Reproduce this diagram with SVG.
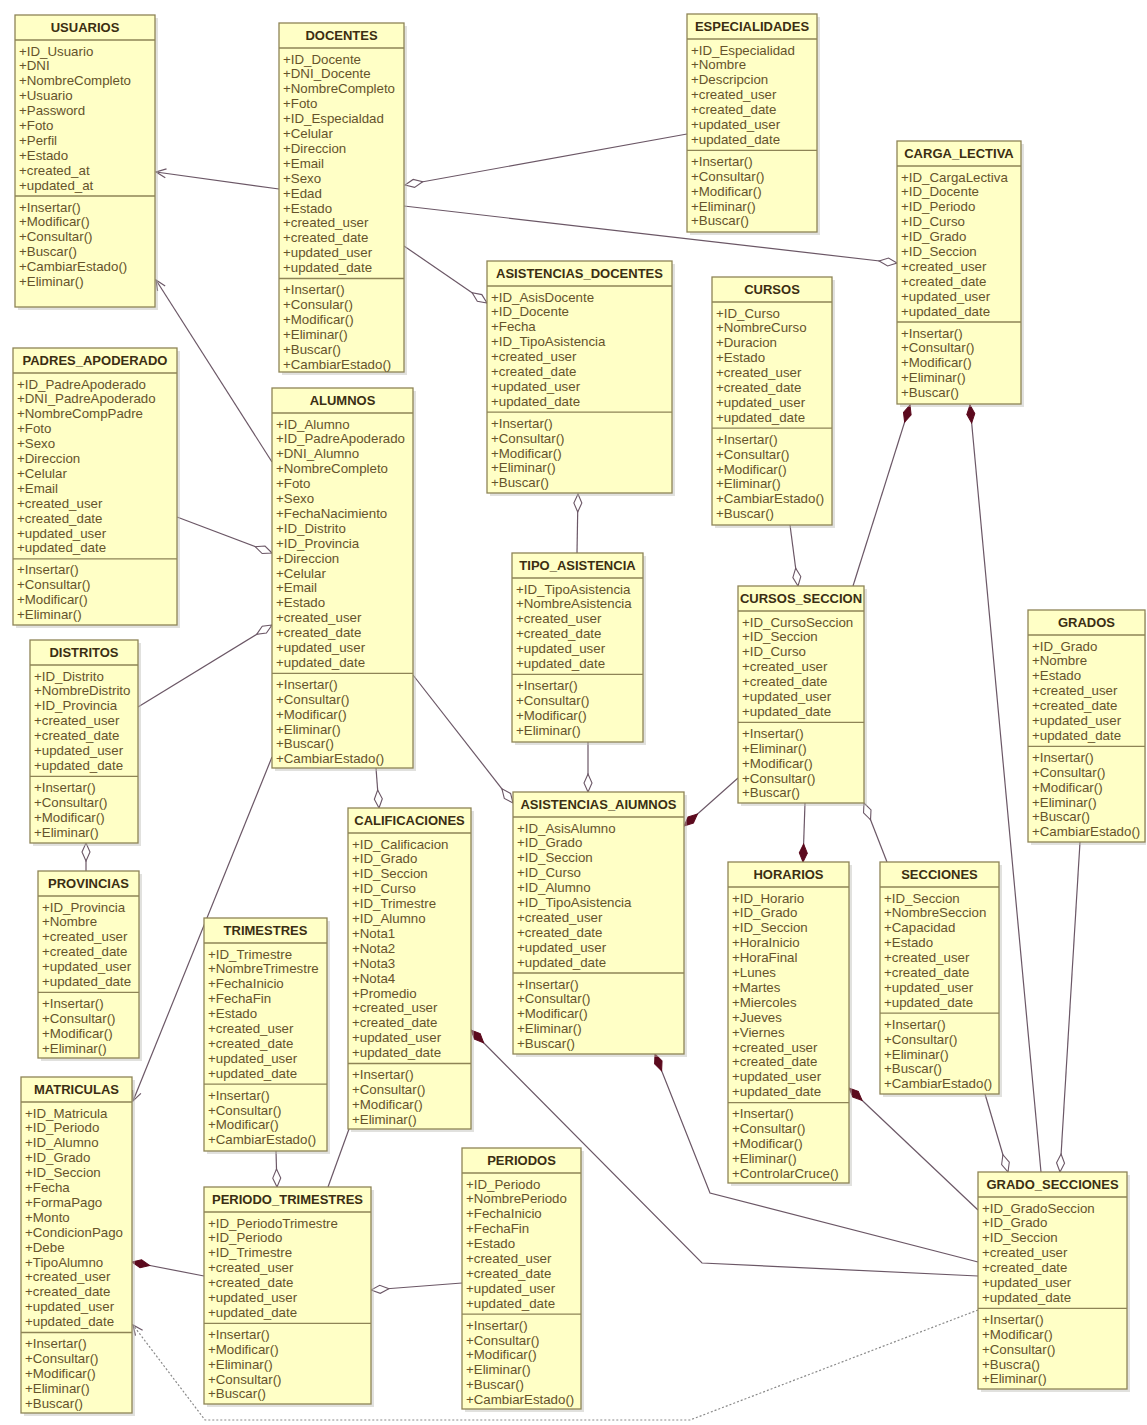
<svg xmlns="http://www.w3.org/2000/svg" width="1147" height="1425" viewBox="0 0 1147 1425">
<style>
.bg{fill:#ffffff}
.box{fill:#FFFFC6;stroke:#8E8456;stroke-width:1.3}
.sep{stroke:#8E8456;stroke-width:1.3}
.sh{fill:#bdbdb5;opacity:.45}
.t{font-family:"Liberation Sans",Arial,sans-serif;font-size:13px;font-weight:bold;fill:#3b2e12;text-anchor:middle}
.a{font-family:"Liberation Sans",Arial,sans-serif;font-size:13.3px;fill:#65532b}
.c{fill:none;stroke:#6b5766;stroke-width:1.2}
.d{stroke-dasharray:2 2;stroke:#8a8a8a}
</style>
<defs>
<marker id="agg" viewBox="-19 -5 20 10" refX="0" refY="0" markerWidth="20" markerHeight="10" markerUnits="userSpaceOnUse" orient="auto">
<path d="M0,0 L-9,-4 L-18,0 L-9,4 Z" fill="#ffffff" stroke="#6b5766" stroke-width="1.1"/>
</marker>
<marker id="comp" viewBox="-19 -5 20 10" refX="0" refY="0" markerWidth="20" markerHeight="10" markerUnits="userSpaceOnUse" orient="auto">
<path d="M0,0 L-9,-4 L-18,0 L-9,4 Z" fill="#5c0a1e" stroke="#5c0a1e" stroke-width="1"/>
</marker>
<marker id="arr" viewBox="-12 -6 13 12" refX="0" refY="0" markerWidth="13" markerHeight="12" markerUnits="userSpaceOnUse" orient="auto">
<path d="M-10,-4.5 L0,0 L-10,4.5" fill="none" stroke="#6b5766" stroke-width="1.2"/>
</marker>
</defs>
<rect class="bg" x="0" y="0" width="1147" height="1425"/>

<g id="connectors">
<path class="c" d="M279,189 L156,172" marker-end="url(#arr)"/>
<path class="c" d="M272,462 L156,280" marker-end="url(#arr)"/>
<path class="c" d="M687,134 L405,185" marker-end="url(#agg)"/>
<path class="c" d="M404,206 L897,263" marker-end="url(#agg)"/>
<path class="c" d="M404,246 L487,303" marker-end="url(#agg)"/>
<path class="c" d="M577,553 L578,494" marker-end="url(#agg)"/>
<path class="c" d="M790,525 L798,586" marker-end="url(#agg)"/>
<path class="c" d="M853,586 L910,405" marker-end="url(#comp)"/>
<path class="c" d="M1041,1172 L970,405" marker-end="url(#comp)"/>
<path class="c" d="M1080,842 L1060,1172" marker-end="url(#agg)"/>
<path class="c" d="M985,1094 L1008,1172" marker-end="url(#agg)"/>
<path class="c" d="M887,862 L864,803" marker-end="url(#agg)"/>
<path class="c" d="M805,803 L803,862" marker-end="url(#comp)"/>
<path class="c" d="M738,778 L684,826" marker-end="url(#comp)"/>
<path class="c" d="M588,742 L588,792" marker-end="url(#agg)"/>
<path class="c" d="M413,675 L513,803" marker-end="url(#agg)"/>
<path class="c" d="M376,768 L379,808" marker-end="url(#agg)"/>
<path class="c" d="M177,517 L272,553" marker-end="url(#agg)"/>
<path class="c" d="M138,707 L272,625" marker-end="url(#agg)"/>
<path class="c" d="M86,871 L86,843" marker-end="url(#agg)"/>
<path class="c" d="M272,757 L133,1101" marker-end="url(#arr)"/>
<path class="c" d="M276,1151 L277,1187" marker-end="url(#agg)"/>
<path class="c" d="M349,1129 L328,1187"/>
<path class="c" d="M204,1276 L132,1262" marker-end="url(#comp)"/>
<path class="c" d="M462,1283 L371,1290" marker-end="url(#agg)"/>
<path class="c" d="M978,1276 L702,1263 L471,1030" marker-end="url(#comp)"/>
<path class="c" d="M978,1262 L710,1193 L655,1054" marker-end="url(#comp)"/>
<path class="c" d="M978,1210 L849,1088" marker-end="url(#comp)"/>
<path class="c d" d="M978,1310 L690,1420 L205,1420 L133,1325" marker-end="url(#arr)"/>
</g>

<g id="usuarios">
<rect class="sh" x="18" y="18" width="140" height="292"/>
<rect class="box" x="15" y="15" width="140" height="292"/>
<line class="sep" x1="15" y1="40" x2="155" y2="40"/>
<line class="sep" x1="15" y1="196" x2="155" y2="196"/>
<text class="t" x="85" y="32">USUARIOS</text>
<text class="a" x="19" y="55.5"><tspan x="19">+ID_Usuario</tspan><tspan x="19" dy="14.9">+DNI</tspan><tspan x="19" dy="14.9">+NombreCompleto</tspan><tspan x="19" dy="14.9">+Usuario</tspan><tspan x="19" dy="14.9">+Password</tspan><tspan x="19" dy="14.9">+Foto</tspan><tspan x="19" dy="14.9">+Perfil</tspan><tspan x="19" dy="14.9">+Estado</tspan><tspan x="19" dy="14.9">+created_at</tspan><tspan x="19" dy="14.9">+updated_at</tspan></text>
<text class="a" x="19" y="211.5"><tspan x="19">+Insertar()</tspan><tspan x="19" dy="14.9">+Modificar()</tspan><tspan x="19" dy="14.9">+Consultar()</tspan><tspan x="19" dy="14.9">+Buscar()</tspan><tspan x="19" dy="14.9">+CambiarEstado()</tspan><tspan x="19" dy="14.9">+Eliminar()</tspan></text>
</g>

<g id="docentes">
<rect class="sh" x="282" y="26" width="125" height="349"/>
<rect class="box" x="279" y="23" width="125" height="349"/>
<line class="sep" x1="279" y1="48" x2="404" y2="48"/>
<line class="sep" x1="279" y1="278.5" x2="404" y2="278.5"/>
<text class="t" x="341.5" y="40">DOCENTES</text>
<text class="a" x="283" y="63.5"><tspan x="283">+ID_Docente</tspan><tspan x="283" dy="14.9">+DNI_Docente</tspan><tspan x="283" dy="14.9">+NombreCompleto</tspan><tspan x="283" dy="14.9">+Foto</tspan><tspan x="283" dy="14.9">+ID_Especialdad</tspan><tspan x="283" dy="14.9">+Celular</tspan><tspan x="283" dy="14.9">+Direccion</tspan><tspan x="283" dy="14.9">+Email</tspan><tspan x="283" dy="14.9">+Sexo</tspan><tspan x="283" dy="14.9">+Edad</tspan><tspan x="283" dy="14.9">+Estado</tspan><tspan x="283" dy="14.9">+created_user</tspan><tspan x="283" dy="14.9">+created_date</tspan><tspan x="283" dy="14.9">+updated_user</tspan><tspan x="283" dy="14.9">+updated_date</tspan></text>
<text class="a" x="283" y="294"><tspan x="283">+Insertar()</tspan><tspan x="283" dy="14.9">+Consular()</tspan><tspan x="283" dy="14.9">+Modificar()</tspan><tspan x="283" dy="14.9">+Eliminar()</tspan><tspan x="283" dy="14.9">+Buscar()</tspan><tspan x="283" dy="14.9">+CambiarEstado()</tspan></text>
</g>

<g id="especialidades">
<rect class="sh" x="690" y="17" width="130" height="218"/>
<rect class="box" x="687" y="14" width="130" height="218"/>
<line class="sep" x1="687" y1="39" x2="817" y2="39"/>
<line class="sep" x1="687" y1="150.3" x2="817" y2="150.3"/>
<text class="t" x="752" y="31">ESPECIALIDADES</text>
<text class="a" x="691" y="54.5"><tspan x="691">+ID_Especialidad</tspan><tspan x="691" dy="14.9">+Nombre</tspan><tspan x="691" dy="14.9">+Descripcion</tspan><tspan x="691" dy="14.9">+created_user</tspan><tspan x="691" dy="14.9">+created_date</tspan><tspan x="691" dy="14.9">+updated_user</tspan><tspan x="691" dy="14.9">+updated_date</tspan></text>
<text class="a" x="691" y="165.8"><tspan x="691">+Insertar()</tspan><tspan x="691" dy="14.9">+Consultar()</tspan><tspan x="691" dy="14.9">+Modificar()</tspan><tspan x="691" dy="14.9">+Eliminar()</tspan><tspan x="691" dy="14.9">+Buscar()</tspan></text>
</g>

<g id="carga_lectiva">
<rect class="sh" x="900" y="144" width="124" height="263"/>
<rect class="box" x="897" y="141" width="124" height="263"/>
<line class="sep" x1="897" y1="166" x2="1021" y2="166"/>
<line class="sep" x1="897" y1="322" x2="1021" y2="322"/>
<text class="t" x="959" y="158">CARGA_LECTIVA</text>
<text class="a" x="901" y="181.5"><tspan x="901">+ID_CargaLectiva</tspan><tspan x="901" dy="14.9">+ID_Docente</tspan><tspan x="901" dy="14.9">+ID_Periodo</tspan><tspan x="901" dy="14.9">+ID_Curso</tspan><tspan x="901" dy="14.9">+ID_Grado</tspan><tspan x="901" dy="14.9">+ID_Seccion</tspan><tspan x="901" dy="14.9">+created_user</tspan><tspan x="901" dy="14.9">+created_date</tspan><tspan x="901" dy="14.9">+updated_user</tspan><tspan x="901" dy="14.9">+updated_date</tspan></text>
<text class="a" x="901" y="337.5"><tspan x="901">+Insertar()</tspan><tspan x="901" dy="14.9">+Consultar()</tspan><tspan x="901" dy="14.9">+Modificar()</tspan><tspan x="901" dy="14.9">+Eliminar()</tspan><tspan x="901" dy="14.9">+Buscar()</tspan></text>
</g>

<g id="asistencias_docentes">
<rect class="sh" x="490" y="264" width="185" height="232"/>
<rect class="box" x="487" y="261" width="185" height="232"/>
<line class="sep" x1="487" y1="286" x2="672" y2="286"/>
<line class="sep" x1="487" y1="412.2" x2="672" y2="412.2"/>
<text class="t" x="579.5" y="278">ASISTENCIAS_DOCENTES</text>
<text class="a" x="491" y="301.5"><tspan x="491">+ID_AsisDocente</tspan><tspan x="491" dy="14.9">+ID_Docente</tspan><tspan x="491" dy="14.9">+Fecha</tspan><tspan x="491" dy="14.9">+ID_TipoAsistencia</tspan><tspan x="491" dy="14.9">+created_user</tspan><tspan x="491" dy="14.9">+created_date</tspan><tspan x="491" dy="14.9">+updated_user</tspan><tspan x="491" dy="14.9">+updated_date</tspan></text>
<text class="a" x="491" y="427.7"><tspan x="491">+Insertar()</tspan><tspan x="491" dy="14.9">+Consultar()</tspan><tspan x="491" dy="14.9">+Modificar()</tspan><tspan x="491" dy="14.9">+Eliminar()</tspan><tspan x="491" dy="14.9">+Buscar()</tspan></text>
</g>

<g id="cursos">
<rect class="sh" x="715" y="280" width="120" height="248"/>
<rect class="box" x="712" y="277" width="120" height="248"/>
<line class="sep" x1="712" y1="302" x2="832" y2="302"/>
<line class="sep" x1="712" y1="428.2" x2="832" y2="428.2"/>
<text class="t" x="772" y="294">CURSOS</text>
<text class="a" x="716" y="317.5"><tspan x="716">+ID_Curso</tspan><tspan x="716" dy="14.9">+NombreCurso</tspan><tspan x="716" dy="14.9">+Duracion</tspan><tspan x="716" dy="14.9">+Estado</tspan><tspan x="716" dy="14.9">+created_user</tspan><tspan x="716" dy="14.9">+created_date</tspan><tspan x="716" dy="14.9">+updated_user</tspan><tspan x="716" dy="14.9">+updated_date</tspan></text>
<text class="a" x="716" y="443.7"><tspan x="716">+Insertar()</tspan><tspan x="716" dy="14.9">+Consultar()</tspan><tspan x="716" dy="14.9">+Modificar()</tspan><tspan x="716" dy="14.9">+Eliminar()</tspan><tspan x="716" dy="14.9">+CambiarEstado()</tspan><tspan x="716" dy="14.9">+Buscar()</tspan></text>
</g>

<g id="padres_apoderado">
<rect class="sh" x="16" y="351" width="164" height="277"/>
<rect class="box" x="13" y="348" width="164" height="277"/>
<line class="sep" x1="13" y1="373" x2="177" y2="373"/>
<line class="sep" x1="13" y1="558.8" x2="177" y2="558.8"/>
<text class="t" x="95" y="365">PADRES_APODERADO</text>
<text class="a" x="17" y="388.5"><tspan x="17">+ID_PadreApoderado</tspan><tspan x="17" dy="14.9">+DNI_PadreApoderado</tspan><tspan x="17" dy="14.9">+NombreCompPadre</tspan><tspan x="17" dy="14.9">+Foto</tspan><tspan x="17" dy="14.9">+Sexo</tspan><tspan x="17" dy="14.9">+Direccion</tspan><tspan x="17" dy="14.9">+Celular</tspan><tspan x="17" dy="14.9">+Email</tspan><tspan x="17" dy="14.9">+created_user</tspan><tspan x="17" dy="14.9">+created_date</tspan><tspan x="17" dy="14.9">+updated_user</tspan><tspan x="17" dy="14.9">+updated_date</tspan></text>
<text class="a" x="17" y="574.3"><tspan x="17">+Insertar()</tspan><tspan x="17" dy="14.9">+Consultar()</tspan><tspan x="17" dy="14.9">+Modificar()</tspan><tspan x="17" dy="14.9">+Eliminar()</tspan></text>
</g>

<g id="alumnos">
<rect class="sh" x="275" y="391" width="141" height="380"/>
<rect class="box" x="272" y="388" width="141" height="380"/>
<line class="sep" x1="272" y1="413" x2="413" y2="413"/>
<line class="sep" x1="272" y1="673.3" x2="413" y2="673.3"/>
<text class="t" x="342.5" y="405">ALUMNOS</text>
<text class="a" x="276" y="428.5"><tspan x="276">+ID_Alumno</tspan><tspan x="276" dy="14.9">+ID_PadreApoderado</tspan><tspan x="276" dy="14.9">+DNI_Alumno</tspan><tspan x="276" dy="14.9">+NombreCompleto</tspan><tspan x="276" dy="14.9">+Foto</tspan><tspan x="276" dy="14.9">+Sexo</tspan><tspan x="276" dy="14.9">+FechaNacimiento</tspan><tspan x="276" dy="14.9">+ID_Distrito</tspan><tspan x="276" dy="14.9">+ID_Provincia</tspan><tspan x="276" dy="14.9">+Direccion</tspan><tspan x="276" dy="14.9">+Celular</tspan><tspan x="276" dy="14.9">+Email</tspan><tspan x="276" dy="14.9">+Estado</tspan><tspan x="276" dy="14.9">+created_user</tspan><tspan x="276" dy="14.9">+created_date</tspan><tspan x="276" dy="14.9">+updated_user</tspan><tspan x="276" dy="14.9">+updated_date</tspan></text>
<text class="a" x="276" y="688.8"><tspan x="276">+Insertar()</tspan><tspan x="276" dy="14.9">+Consultar()</tspan><tspan x="276" dy="14.9">+Modificar()</tspan><tspan x="276" dy="14.9">+Eliminar()</tspan><tspan x="276" dy="14.9">+Buscar()</tspan><tspan x="276" dy="14.9">+CambiarEstado()</tspan></text>
</g>

<g id="tipo_asistencia">
<rect class="sh" x="515" y="556" width="131" height="189"/>
<rect class="box" x="512" y="553" width="131" height="189"/>
<line class="sep" x1="512" y1="578" x2="643" y2="578"/>
<line class="sep" x1="512" y1="674.4" x2="643" y2="674.4"/>
<text class="t" x="577.5" y="570">TIPO_ASISTENCIA</text>
<text class="a" x="516" y="593.5"><tspan x="516">+ID_TipoAsistencia</tspan><tspan x="516" dy="14.9">+NombreAsistencia</tspan><tspan x="516" dy="14.9">+created_user</tspan><tspan x="516" dy="14.9">+created_date</tspan><tspan x="516" dy="14.9">+updated_user</tspan><tspan x="516" dy="14.9">+updated_date</tspan></text>
<text class="a" x="516" y="689.9"><tspan x="516">+Insertar()</tspan><tspan x="516" dy="14.9">+Consultar()</tspan><tspan x="516" dy="14.9">+Modificar()</tspan><tspan x="516" dy="14.9">+Eliminar()</tspan></text>
</g>

<g id="cursos_seccion">
<rect class="sh" x="741" y="589" width="126" height="217"/>
<rect class="box" x="738" y="586" width="126" height="217"/>
<line class="sep" x1="738" y1="611" x2="864" y2="611"/>
<line class="sep" x1="738" y1="722.3" x2="864" y2="722.3"/>
<text class="t" x="801" y="603">CURSOS_SECCION</text>
<text class="a" x="742" y="626.5"><tspan x="742">+ID_CursoSeccion</tspan><tspan x="742" dy="14.9">+ID_Seccion</tspan><tspan x="742" dy="14.9">+ID_Curso</tspan><tspan x="742" dy="14.9">+created_user</tspan><tspan x="742" dy="14.9">+created_date</tspan><tspan x="742" dy="14.9">+updated_user</tspan><tspan x="742" dy="14.9">+updated_date</tspan></text>
<text class="a" x="742" y="737.8"><tspan x="742">+Insertar()</tspan><tspan x="742" dy="14.9">+Eliminar()</tspan><tspan x="742" dy="14.9">+Modificar()</tspan><tspan x="742" dy="14.9">+Consultar()</tspan><tspan x="742" dy="14.9">+Buscar()</tspan></text>
</g>

<g id="grados">
<rect class="sh" x="1031" y="613" width="115" height="232"/>
<rect class="box" x="1028" y="610" width="117" height="232"/>
<line class="sep" x1="1028" y1="635" x2="1145" y2="635"/>
<line class="sep" x1="1028" y1="746.3" x2="1145" y2="746.3"/>
<text class="t" x="1086.5" y="627">GRADOS</text>
<text class="a" x="1032" y="650.5"><tspan x="1032">+ID_Grado</tspan><tspan x="1032" dy="14.9">+Nombre</tspan><tspan x="1032" dy="14.9">+Estado</tspan><tspan x="1032" dy="14.9">+created_user</tspan><tspan x="1032" dy="14.9">+created_date</tspan><tspan x="1032" dy="14.9">+updated_user</tspan><tspan x="1032" dy="14.9">+updated_date</tspan></text>
<text class="a" x="1032" y="761.8"><tspan x="1032">+Insertar()</tspan><tspan x="1032" dy="14.9">+Consultar()</tspan><tspan x="1032" dy="14.9">+Modificar()</tspan><tspan x="1032" dy="14.9">+Eliminar()</tspan><tspan x="1032" dy="14.9">+Buscar()</tspan><tspan x="1032" dy="14.9">+CambiarEstado()</tspan></text>
</g>

<g id="distritos">
<rect class="sh" x="33" y="643" width="108" height="203"/>
<rect class="box" x="30" y="640" width="108" height="203"/>
<line class="sep" x1="30" y1="665" x2="138" y2="665"/>
<line class="sep" x1="30" y1="776.3" x2="138" y2="776.3"/>
<text class="t" x="84" y="657">DISTRITOS</text>
<text class="a" x="34" y="680.5"><tspan x="34">+ID_Distrito</tspan><tspan x="34" dy="14.9">+NombreDistrito</tspan><tspan x="34" dy="14.9">+ID_Provincia</tspan><tspan x="34" dy="14.9">+created_user</tspan><tspan x="34" dy="14.9">+created_date</tspan><tspan x="34" dy="14.9">+updated_user</tspan><tspan x="34" dy="14.9">+updated_date</tspan></text>
<text class="a" x="34" y="791.8"><tspan x="34">+Insertar()</tspan><tspan x="34" dy="14.9">+Consultar()</tspan><tspan x="34" dy="14.9">+Modificar()</tspan><tspan x="34" dy="14.9">+Eliminar()</tspan></text>
</g>

<g id="provincias">
<rect class="sh" x="41" y="874" width="101" height="187"/>
<rect class="box" x="38" y="871" width="101" height="187"/>
<line class="sep" x1="38" y1="896" x2="139" y2="896"/>
<line class="sep" x1="38" y1="992.4" x2="139" y2="992.4"/>
<text class="t" x="88.5" y="888">PROVINCIAS</text>
<text class="a" x="42" y="911.5"><tspan x="42">+ID_Provincia</tspan><tspan x="42" dy="14.9">+Nombre</tspan><tspan x="42" dy="14.9">+created_user</tspan><tspan x="42" dy="14.9">+created_date</tspan><tspan x="42" dy="14.9">+updated_user</tspan><tspan x="42" dy="14.9">+updated_date</tspan></text>
<text class="a" x="42" y="1007.9"><tspan x="42">+Insertar()</tspan><tspan x="42" dy="14.9">+Consultar()</tspan><tspan x="42" dy="14.9">+Modificar()</tspan><tspan x="42" dy="14.9">+Eliminar()</tspan></text>
</g>

<g id="calificaciones">
<rect class="sh" x="351" y="811" width="123" height="321"/>
<rect class="box" x="348" y="808" width="123" height="321"/>
<line class="sep" x1="348" y1="833" x2="471" y2="833"/>
<line class="sep" x1="348" y1="1063.5" x2="471" y2="1063.5"/>
<text class="t" x="409.5" y="825">CALIFICACIONES</text>
<text class="a" x="352" y="848.5"><tspan x="352">+ID_Calificacion</tspan><tspan x="352" dy="14.9">+ID_Grado</tspan><tspan x="352" dy="14.9">+ID_Seccion</tspan><tspan x="352" dy="14.9">+ID_Curso</tspan><tspan x="352" dy="14.9">+ID_Trimestre</tspan><tspan x="352" dy="14.9">+ID_Alumno</tspan><tspan x="352" dy="14.9">+Nota1</tspan><tspan x="352" dy="14.9">+Nota2</tspan><tspan x="352" dy="14.9">+Nota3</tspan><tspan x="352" dy="14.9">+Nota4</tspan><tspan x="352" dy="14.9">+Promedio</tspan><tspan x="352" dy="14.9">+created_user</tspan><tspan x="352" dy="14.9">+created_date</tspan><tspan x="352" dy="14.9">+updated_user</tspan><tspan x="352" dy="14.9">+updated_date</tspan></text>
<text class="a" x="352" y="1079"><tspan x="352">+Insertar()</tspan><tspan x="352" dy="14.9">+Consultar()</tspan><tspan x="352" dy="14.9">+Modificar()</tspan><tspan x="352" dy="14.9">+Eliminar()</tspan></text>
</g>

<g id="asistencias_alumnos">
<rect class="sh" x="516" y="795" width="171" height="262"/>
<rect class="box" x="513" y="792" width="171" height="262"/>
<line class="sep" x1="513" y1="817" x2="684" y2="817"/>
<line class="sep" x1="513" y1="973" x2="684" y2="973"/>
<text class="t" x="598.5" y="809">ASISTENCIAS_AIUMNOS</text>
<text class="a" x="517" y="832.5"><tspan x="517">+ID_AsisAlumno</tspan><tspan x="517" dy="14.9">+ID_Grado</tspan><tspan x="517" dy="14.9">+ID_Seccion</tspan><tspan x="517" dy="14.9">+ID_Curso</tspan><tspan x="517" dy="14.9">+ID_Alumno</tspan><tspan x="517" dy="14.9">+ID_TipoAsistencia</tspan><tspan x="517" dy="14.9">+created_user</tspan><tspan x="517" dy="14.9">+created_date</tspan><tspan x="517" dy="14.9">+updated_user</tspan><tspan x="517" dy="14.9">+updated_date</tspan></text>
<text class="a" x="517" y="988.5"><tspan x="517">+Insertar()</tspan><tspan x="517" dy="14.9">+Consultar()</tspan><tspan x="517" dy="14.9">+Modificar()</tspan><tspan x="517" dy="14.9">+Eliminar()</tspan><tspan x="517" dy="14.9">+Buscar()</tspan></text>
</g>

<g id="horarios">
<rect class="sh" x="731" y="865" width="121" height="321"/>
<rect class="box" x="728" y="862" width="121" height="321"/>
<line class="sep" x1="728" y1="887" x2="849" y2="887"/>
<line class="sep" x1="728" y1="1102.6" x2="849" y2="1102.6"/>
<text class="t" x="788.5" y="879">HORARIOS</text>
<text class="a" x="732" y="902.5"><tspan x="732">+ID_Horario</tspan><tspan x="732" dy="14.9">+ID_Grado</tspan><tspan x="732" dy="14.9">+ID_Seccion</tspan><tspan x="732" dy="14.9">+HoraInicio</tspan><tspan x="732" dy="14.9">+HoraFinal</tspan><tspan x="732" dy="14.9">+Lunes</tspan><tspan x="732" dy="14.9">+Martes</tspan><tspan x="732" dy="14.9">+Miercoles</tspan><tspan x="732" dy="14.9">+Jueves</tspan><tspan x="732" dy="14.9">+Viernes</tspan><tspan x="732" dy="14.9">+created_user</tspan><tspan x="732" dy="14.9">+created_date</tspan><tspan x="732" dy="14.9">+updated_user</tspan><tspan x="732" dy="14.9">+updated_date</tspan></text>
<text class="a" x="732" y="1118.1"><tspan x="732">+Insertar()</tspan><tspan x="732" dy="14.9">+Consultar()</tspan><tspan x="732" dy="14.9">+Modificar()</tspan><tspan x="732" dy="14.9">+Eliminar()</tspan><tspan x="732" dy="14.9">+ControlarCruce()</tspan></text>
</g>

<g id="secciones">
<rect class="sh" x="883" y="865" width="119" height="232"/>
<rect class="box" x="880" y="862" width="119" height="232"/>
<line class="sep" x1="880" y1="887" x2="999" y2="887"/>
<line class="sep" x1="880" y1="1013.2" x2="999" y2="1013.2"/>
<text class="t" x="939.5" y="879">SECCIONES</text>
<text class="a" x="884" y="902.5"><tspan x="884">+ID_Seccion</tspan><tspan x="884" dy="14.9">+NombreSeccion</tspan><tspan x="884" dy="14.9">+Capacidad</tspan><tspan x="884" dy="14.9">+Estado</tspan><tspan x="884" dy="14.9">+created_user</tspan><tspan x="884" dy="14.9">+created_date</tspan><tspan x="884" dy="14.9">+updated_user</tspan><tspan x="884" dy="14.9">+updated_date</tspan></text>
<text class="a" x="884" y="1028.7"><tspan x="884">+Insertar()</tspan><tspan x="884" dy="14.9">+Consultar()</tspan><tspan x="884" dy="14.9">+Eliminar()</tspan><tspan x="884" dy="14.9">+Buscar()</tspan><tspan x="884" dy="14.9">+CambiarEstado()</tspan></text>
</g>

<g id="trimestres">
<rect class="sh" x="207" y="921" width="123" height="233"/>
<rect class="box" x="204" y="918" width="123" height="233"/>
<line class="sep" x1="204" y1="943" x2="327" y2="943"/>
<line class="sep" x1="204" y1="1084.1" x2="327" y2="1084.1"/>
<text class="t" x="265.5" y="935">TRIMESTRES</text>
<text class="a" x="208" y="958.5"><tspan x="208">+ID_Trimestre</tspan><tspan x="208" dy="14.9">+NombreTrimestre</tspan><tspan x="208" dy="14.9">+FechaInicio</tspan><tspan x="208" dy="14.9">+FechaFin</tspan><tspan x="208" dy="14.9">+Estado</tspan><tspan x="208" dy="14.9">+created_user</tspan><tspan x="208" dy="14.9">+created_date</tspan><tspan x="208" dy="14.9">+updated_user</tspan><tspan x="208" dy="14.9">+updated_date</tspan></text>
<text class="a" x="208" y="1099.6"><tspan x="208">+Insertar()</tspan><tspan x="208" dy="14.9">+Consultar()</tspan><tspan x="208" dy="14.9">+Modificar()</tspan><tspan x="208" dy="14.9">+CambiarEstado()</tspan></text>
</g>

<g id="matriculas">
<rect class="sh" x="24" y="1080" width="111" height="336"/>
<rect class="box" x="21" y="1077" width="111" height="336"/>
<line class="sep" x1="21" y1="1102" x2="132" y2="1102"/>
<line class="sep" x1="21" y1="1332.5" x2="132" y2="1332.5"/>
<text class="t" x="76.5" y="1094">MATRICULAS</text>
<text class="a" x="25" y="1117.5"><tspan x="25">+ID_Matricula</tspan><tspan x="25" dy="14.9">+ID_Periodo</tspan><tspan x="25" dy="14.9">+ID_Alumno</tspan><tspan x="25" dy="14.9">+ID_Grado</tspan><tspan x="25" dy="14.9">+ID_Seccion</tspan><tspan x="25" dy="14.9">+Fecha</tspan><tspan x="25" dy="14.9">+FormaPago</tspan><tspan x="25" dy="14.9">+Monto</tspan><tspan x="25" dy="14.9">+CondicionPago</tspan><tspan x="25" dy="14.9">+Debe</tspan><tspan x="25" dy="14.9">+TipoAlumno</tspan><tspan x="25" dy="14.9">+created_user</tspan><tspan x="25" dy="14.9">+created_date</tspan><tspan x="25" dy="14.9">+updated_user</tspan><tspan x="25" dy="14.9">+updated_date</tspan></text>
<text class="a" x="25" y="1348"><tspan x="25">+Insertar()</tspan><tspan x="25" dy="14.9">+Consultar()</tspan><tspan x="25" dy="14.9">+Modificar()</tspan><tspan x="25" dy="14.9">+Eliminar()</tspan><tspan x="25" dy="14.9">+Buscar()</tspan></text>
</g>

<g id="periodo_trimestres">
<rect class="sh" x="207" y="1190" width="167" height="217"/>
<rect class="box" x="204" y="1187" width="167" height="217"/>
<line class="sep" x1="204" y1="1212" x2="371" y2="1212"/>
<line class="sep" x1="204" y1="1323.3" x2="371" y2="1323.3"/>
<text class="t" x="287.5" y="1204">PERIODO_TRIMESTRES</text>
<text class="a" x="208" y="1227.5"><tspan x="208">+ID_PeriodoTrimestre</tspan><tspan x="208" dy="14.9">+ID_Periodo</tspan><tspan x="208" dy="14.9">+ID_Trimestre</tspan><tspan x="208" dy="14.9">+created_user</tspan><tspan x="208" dy="14.9">+created_date</tspan><tspan x="208" dy="14.9">+updated_user</tspan><tspan x="208" dy="14.9">+updated_date</tspan></text>
<text class="a" x="208" y="1338.8"><tspan x="208">+Insertar()</tspan><tspan x="208" dy="14.9">+Modificar()</tspan><tspan x="208" dy="14.9">+Eliminar()</tspan><tspan x="208" dy="14.9">+Consultar()</tspan><tspan x="208" dy="14.9">+Buscar()</tspan></text>
</g>

<g id="periodos">
<rect class="sh" x="465" y="1151" width="119" height="261"/>
<rect class="box" x="462" y="1148" width="119" height="261"/>
<line class="sep" x1="462" y1="1173" x2="581" y2="1173"/>
<line class="sep" x1="462" y1="1314.1" x2="581" y2="1314.1"/>
<text class="t" x="521.5" y="1165">PERIODOS</text>
<text class="a" x="466" y="1188.5"><tspan x="466">+ID_Periodo</tspan><tspan x="466" dy="14.9">+NombrePeriodo</tspan><tspan x="466" dy="14.9">+FechaInicio</tspan><tspan x="466" dy="14.9">+FechaFin</tspan><tspan x="466" dy="14.9">+Estado</tspan><tspan x="466" dy="14.9">+created_user</tspan><tspan x="466" dy="14.9">+created_date</tspan><tspan x="466" dy="14.9">+updated_user</tspan><tspan x="466" dy="14.9">+updated_date</tspan></text>
<text class="a" x="466" y="1329.6"><tspan x="466">+Insertar()</tspan><tspan x="466" dy="14.9">+Consultar()</tspan><tspan x="466" dy="14.9">+Modificar()</tspan><tspan x="466" dy="14.9">+Eliminar()</tspan><tspan x="466" dy="14.9">+Buscar()</tspan><tspan x="466" dy="14.9">+CambiarEstado()</tspan></text>
</g>

<g id="grado_secciones">
<rect class="sh" x="981" y="1175" width="149" height="217"/>
<rect class="box" x="978" y="1172" width="149" height="217"/>
<line class="sep" x1="978" y1="1197" x2="1127" y2="1197"/>
<line class="sep" x1="978" y1="1308.3" x2="1127" y2="1308.3"/>
<text class="t" x="1052.5" y="1189">GRADO_SECCIONES</text>
<text class="a" x="982" y="1212.5"><tspan x="982">+ID_GradoSeccion</tspan><tspan x="982" dy="14.9">+ID_Grado</tspan><tspan x="982" dy="14.9">+ID_Seccion</tspan><tspan x="982" dy="14.9">+created_user</tspan><tspan x="982" dy="14.9">+created_date</tspan><tspan x="982" dy="14.9">+updated_user</tspan><tspan x="982" dy="14.9">+updated_date</tspan></text>
<text class="a" x="982" y="1323.8"><tspan x="982">+Insertar()</tspan><tspan x="982" dy="14.9">+Modificar()</tspan><tspan x="982" dy="14.9">+Consultar()</tspan><tspan x="982" dy="14.9">+Buscra()</tspan><tspan x="982" dy="14.9">+Eliminar()</tspan></text>
</g>
</svg>
